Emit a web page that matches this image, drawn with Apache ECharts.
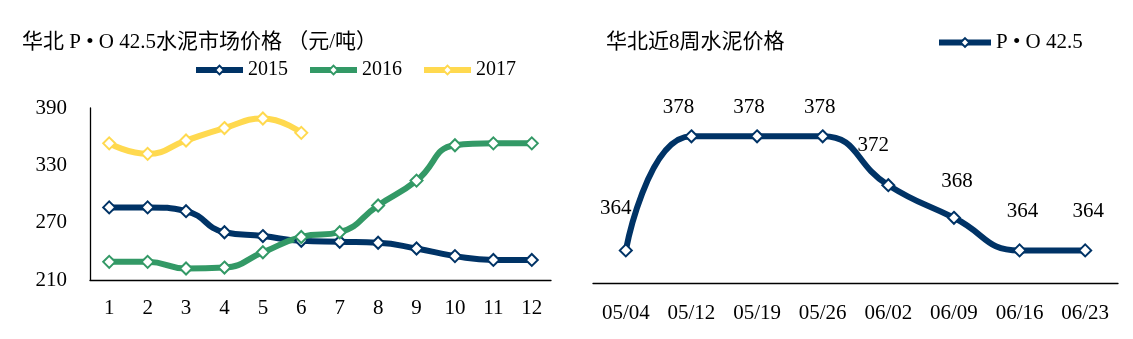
<!DOCTYPE html>
<html><head><meta charset="utf-8">
<script src="https://cdn.jsdelivr.net/npm/echarts@6/dist/echarts.min.js"></script>
<style>html,body{margin:0;padding:0;background:#fff}#c{width:1133px;height:339px}</style>
</head><body><div id="c"></div>
<script>
// ---- data ----
const months = ['1','2','3','4','5','6','7','8','9','10','11','12'];
const s2015 = [286,286,282,260,256,251,250,249,243,235,231,231];
const s2016 = [229,229,222,223,239,255,260,288,314,351,353,353];
const s2017 = [353,342,356,369,379,364];
const seriesNames = ['2015','2016','2017'];
const weeks = ['05/04','05/12','05/19','05/26','06/02','06/09','06/16','06/23'];
const weekly = [364,378,378,378,372,368,364,364];
const weeklyName = 'P • O 42.5';
const leftTitle = '华北 P • O 42.5水泥市场价格 （元/吨）';
const rightTitle = '华北近8周水泥价格';

// ---- styles ----
const FONT = "'Liberation Serif', 'Times New Roman', 'Noto Sans CJK SC', serif";
const colors = ['#003366', '#339966', '#FFD94F'];
const labelDx = [-10,-13,-8,-3,-15,3,3,3];
const labelDy = [40,27,27,27,38,35,37,37];

const mkLine = (name, data, color, xi, yi) => ({
  name, type: 'line', data, xAxisIndex: xi, yAxisIndex: yi,
  smooth: true, symbol: 'diamond', symbolSize: 12,
  lineStyle: {color, width: 6},
  itemStyle: {color: '#fff', borderColor: color, borderWidth: 2},
  emphasis: {disabled: true}
});

const weeklyData = weekly.map((v, i) => ({
  value: v,
  label: {offset: [labelDx[i], -(labelDy[i] - 16)]}
}));

const chart = echarts.init(document.getElementById('c'));
const axisText = {color: '#000', fontSize: 21, fontFamily: FONT};
const titleText = {fontSize: 21, fontWeight: 'normal', color: '#000', fontFamily: FONT, lineHeight: 21};
const legendText = {fontSize: 20, color: '#000', fontFamily: FONT, lineHeight: 20};
chart.setOption({
  animation: false,
  backgroundColor: '#fff',
  title: [
    {text: leftTitle, left: 22, top: 32, padding: 0, textStyle: titleText},
    {text: rightTitle, left: 606, top: 32, padding: 0, textStyle: titleText}
  ],
  legend: [
    {data: seriesNames, left: 193, top: 60, padding: 0, itemWidth: 47, itemHeight: 11, itemGap: 19,
     lineStyle: {width: 6}, textStyle: legendText},
    {data: [weeklyName], left: 936, top: 32, padding: 0, itemWidth: 52, itemHeight: 11,
     lineStyle: {width: 6}, textStyle: Object.assign({}, legendText, {fontSize: 21})}
  ],
  grid: [
    {left: 90, top: 108, width: 461, bottom: 59},
    {left: 593, top: 120, width: 525, bottom: 56}
  ],
  xAxis: [
    {type: 'category', data: months, gridIndex: 0, boundaryGap: true,
     axisLine: {lineStyle: {color: '#000', width: 1.3}},
     axisTick: {inside: true, length: 5, lineStyle: {color: '#000'}},
     axisLabel: Object.assign({margin: 18}, axisText)},
    {type: 'category', data: weeks, gridIndex: 1, boundaryGap: true,
     axisLine: {lineStyle: {color: '#000', width: 1.3}},
     axisTick: {inside: true, length: 5, lineStyle: {color: '#000'}},
     axisLabel: Object.assign({margin: 20}, axisText)}
  ],
  yAxis: [
    {type: 'value', gridIndex: 0, min: 210, max: 390, interval: 60,
     axisLine: {show: true, lineStyle: {color: '#000', width: 1.3}},
     axisTick: {show: false}, splitLine: {show: false},
     axisLabel: Object.assign({margin: 23}, axisText)},
    {type: 'value', gridIndex: 1, min: 360, max: 380, show: false, splitLine: {show: false}}
  ],
  series: [
    mkLine(seriesNames[0], s2015, colors[0], 0, 0),
    mkLine(seriesNames[1], s2016, colors[1], 0, 0),
    mkLine(seriesNames[2], s2017, colors[2], 0, 0),
    Object.assign(mkLine(weeklyName, weeklyData, colors[0], 1, 1), {
      label: {show: true, position: 'top', distance: 0, color: '#000', fontSize: 21, fontFamily: FONT, lineHeight: 21}
    })
  ]
});
</script></body></html>
